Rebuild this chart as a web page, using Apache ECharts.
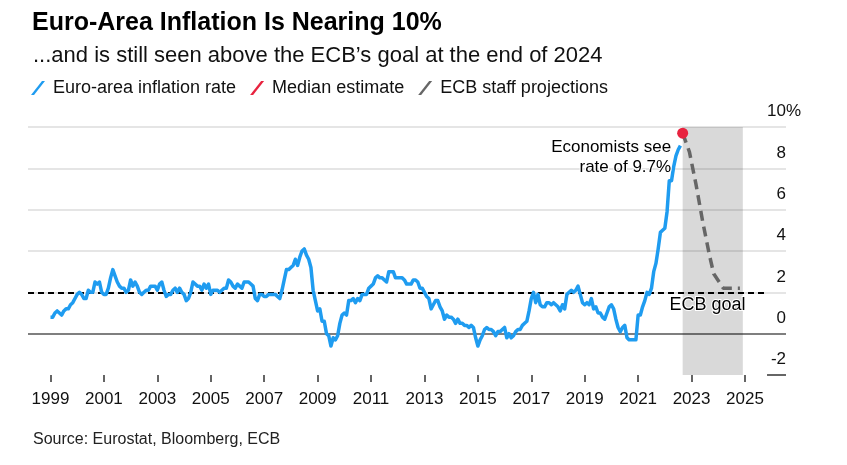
<!DOCTYPE html>
<html><head><meta charset="utf-8">
<script src="https://cdn.jsdelivr.net/npm/echarts@6/dist/echarts.min.js"></script>
<style>html,body{margin:0;padding:0;background:#fff}#c{width:847px;height:465px}</style>
</head><body><div id="c"></div>
<script>
// Monthly euro-area HICP inflation, Jan 1999 .. Aug 2022
const startYear = 1999;
const inflation = [
 0.8,0.8,1.0,1.1,1.0,0.9,1.1,1.2,1.2,1.4,1.5,1.7,
 1.9,2.0,1.9,1.7,1.7,2.1,2.0,2.0,2.5,2.4,2.5,2.0,
 1.9,1.9,2.2,2.7,3.1,2.8,2.5,2.3,2.2,2.2,2.0,2.1,
 2.6,2.3,2.5,2.3,2.0,1.9,2.0,2.1,2.1,2.3,2.3,2.3,
 2.1,2.4,2.5,2.1,1.8,1.9,1.9,2.1,2.2,2.0,2.2,2.0,
 1.9,1.6,1.7,2.0,2.5,2.4,2.3,2.3,2.1,2.4,2.2,2.4,
 1.9,2.1,2.1,2.1,2.0,2.1,2.2,2.2,2.6,2.5,2.3,2.2,
 2.4,2.3,2.2,2.5,2.5,2.5,2.4,2.3,1.7,1.6,1.9,1.9,
 1.8,1.8,1.9,1.9,1.9,1.9,1.8,1.7,2.1,2.6,3.1,3.1,
 3.2,3.3,3.6,3.3,3.7,4.0,4.1,3.8,3.6,3.2,2.1,1.6,
 1.1,1.2,0.6,0.6,0.0,-0.1,-0.6,-0.2,-0.3,-0.1,0.5,0.9,
 1.0,0.9,1.6,1.6,1.7,1.5,1.7,1.6,1.9,1.9,1.9,2.2,
 2.3,2.4,2.7,2.8,2.7,2.7,2.6,2.5,3.0,3.0,3.0,2.7,
 2.7,2.7,2.7,2.6,2.4,2.4,2.4,2.6,2.6,2.5,2.2,2.2,
 2.0,1.8,1.7,1.2,1.4,1.6,1.6,1.3,1.1,0.7,0.9,0.8,
 0.8,0.7,0.5,0.7,0.5,0.5,0.4,0.4,0.3,0.4,0.3,-0.2,
 -0.6,-0.3,-0.1,0.2,0.3,0.2,0.2,0.1,-0.1,0.1,0.1,0.2,
 0.3,-0.2,0.0,-0.2,-0.1,0.1,0.2,0.2,0.4,0.5,0.6,1.1,
 1.7,2.0,1.5,1.9,1.4,1.3,1.3,1.5,1.5,1.4,1.5,1.4,
 1.3,1.1,1.4,1.2,1.9,2.0,2.1,2.0,2.1,2.3,1.9,1.5,
 1.4,1.5,1.4,1.7,1.2,1.3,1.0,1.0,0.8,0.7,1.0,1.3,
 1.4,1.2,0.7,0.3,0.1,0.3,0.4,-0.2,-0.3,-0.3,-0.3,-0.3,
 0.9,0.9,1.3,1.6,2.0,1.9,2.2,3.0,3.4,4.1,4.9,5.0,
 5.1,5.9,7.4,7.4,8.1,8.6,8.9,9.1
];
// Median economist estimate (Sep 2022)
const estimateDates = [2022.667];
const estimateValues = [9.7];
// ECB staff projections path
const projDates  = [2022.667, 2022.92, 2023.17, 2023.42, 2023.67, 2023.83, 2024.19, 2024.81];
const projValues = [9.7, 8.8, 7.2, 5.4, 3.8, 2.9, 2.2, 2.2];
const xTickLabels = [1999,2001,2003,2005,2007,2009,2011,2013,2015,2017,2019,2021,2023,2025];
const yTicks = [-2,0,2,4,6,8,10];
const ecbGoal = 2;
const projectionPeriod = [2022.667, 2024.92];
const xRange = [1998.158, 2026.536];
const plotEnd = 2025.826;

const FONT = "'Liberation Sans', Arial, sans-serif";
const inflationData = inflation.map((v, i) => [startYear + i / 12, v]);
const estimateData = estimateDates.map((d, i) => [d, estimateValues[i]]);
const projData = projDates.map((d, i) => [d, projValues[i]]);

const chart = echarts.init(document.getElementById('c'), null, {renderer: 'canvas'});
chart.setOption({
  animation: false,
  backgroundColor: '#fff',
  textStyle: {fontFamily: FONT},
  title: [
    {text: 'Euro-Area Inflation Is Nearing 10%', left: 27, top: 6,
     textStyle: {fontFamily: FONT, fontSize: 25, fontWeight: 'bold', color: '#000'}},
    {text: '...and is still seen above the ECB\u2019s goal at the end of 2024', left: 28, top: 40,
     textStyle: {fontFamily: FONT, fontSize: 22, fontWeight: 'normal', color: '#111'}},
    {text: 'Source: Eurostat, Bloomberg, ECB', left: 28, top: 427,
     textStyle: {fontFamily: FONT, fontSize: 16, fontWeight: 'normal', color: '#222'}}
  ],
  legend: {
    left: 26, top: 74, itemWidth: 14, itemHeight: 14, itemGap: 14,
    icon: 'path://M0,14 L11,0 L14,0 L3,14 Z',
    textStyle: {fontFamily: FONT, fontSize: 18, color: '#111', padding: [0,0,0,3]},
    data: ['Euro-area inflation rate', 'Median estimate', 'ECB staff projections']
  },
  grid: {left: 28, top: 127, width: 758, height: 248, containLabel: false, outerBoundsMode: 'none'},
  xAxis: {
    type: 'value', min: xRange[0], max: xRange[1],
    axisLine: {show: false, onZero: false},
    axisTick: {show: true, customValues: xTickLabels, length: 7, lineStyle: {color: '#333', width: 1.5}},
    axisLabel: {customValues: xTickLabels, margin: 16, fontSize: 17, color: '#111', fontFamily: FONT,
                formatter: v => String(v)},
    splitLine: {show: false}
  },
  yAxis: {
    type: 'value', min: yTicks[0], max: yTicks[yTicks.length - 1], interval: 2, position: 'right',
    axisLine: {show: false}, axisTick: {show: false},
    axisLabel: {inside: true, margin: 0, align: 'right', verticalAlign: 'bottom', padding: [0,0,7,0],
                fontSize: 17, color: '#111', fontFamily: FONT,
                formatter: v => String(v)},
    splitLine: {show: true, lineStyle: {color: ['rgba(0,0,0,0)', '#555', '#dcdcdc', '#dcdcdc', '#dcdcdc', '#dcdcdc', '#dcdcdc'], width: 1.5}}
  },
  series: [
    {
      name: 'Euro-area inflation rate', type: 'line', data: inflationData,
      showSymbol: false, symbol: 'none', color: '#1f9cf0',
      itemStyle: {color: '#1f9cf0'},
      lineStyle: {color: '#1f9cf0', width: 3.5, join: 'round'},
      z: 5,
      markLine: {
        silent: true, symbol: ['none', 'none'], label: {show: false},
        data: [
          [{coord: [xRange[0], ecbGoal], lineStyle: {color: '#000', width: 2, type: [6, 4]}},
           {coord: [plotEnd, ecbGoal]}],
          [{coord: [plotEnd, yTicks[0]], lineStyle: {color: '#333', width: 1.5, type: 'solid'}},
           {coord: [xRange[1], yTicks[0]]}]
        ]
      }
    },
    {
      name: 'Median estimate', type: 'scatter', data: estimateData,
      symbol: 'circle', symbolSize: 11, color: '#e8233f', itemStyle: {color: '#e8233f', opacity: 1}, z: 7,
      label: {show: true, position: 'left', distance: 6, offset: [0, 24], align: 'right',
              formatter: 'Economists see\nrate of 9.7%', fontSize: 17, lineHeight: 20, color: '#000',
              opacity: 1, fontFamily: FONT, textBorderColor: '#fff', textBorderWidth: 2}
    },
    {
      name: 'ECB staff projections', type: 'line', data: projData,
      showSymbol: false, symbol: 'none', color: '#666', itemStyle: {color: '#666'},
      lineStyle: {color: '#666', width: 3.5, type: [10, 6]},
      z: 6,
      markArea: {
        silent: true, itemStyle: {color: 'rgba(0,0,0,0.15)'},
        data: [[{coord: [projectionPeriod[0], yTicks[0]]}, {coord: [projectionPeriod[1], yTicks[yTicks.length - 1]]}]]
      },
      markPoint: {
        silent: true,
        data: [{coord: [2023.6, ecbGoal], symbol: 'circle', symbolSize: 1, itemStyle: {color: 'rgba(0,0,0,0)'},
                label: {show: true, position: 'inside', offset: [0, 13], formatter: 'ECB goal', fontSize: 18,
                        color: '#000', fontFamily: FONT, textBorderColor: '#fff', textBorderWidth: 2}}]
      }
    }
  ]
});
// percent sign trailing the top y-axis label
const topPt = chart.convertToPixel({gridIndex: 0}, [xRange[1], yTicks[yTicks.length - 1]]);
chart.setOption({
  graphic: [{type: 'text', x: topPt[0], y: topPt[1] - 7,
    style: {text: '%', fontSize: 17, fontFamily: FONT, fill: '#111', textAlign: 'left', textVerticalAlign: 'bottom'}}]
});
</script></body></html>
